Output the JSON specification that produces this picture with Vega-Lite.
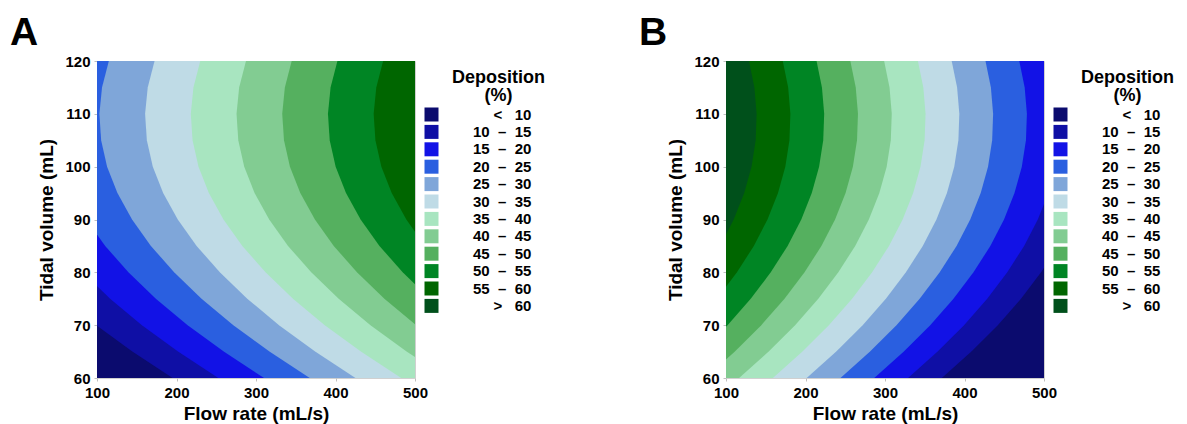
{
  "$schema": "https://vega.github.io/schema/vega-lite/v6.json",
  "padding": {"left": 9, "top": 13, "right": 0, "bottom": 0},
  "spacing": 81,
  "datasets": {
    "A": [
      {"lev":0,"y":60,"x":0},{"lev":0,"y":120,"x":0},
      {"lev":10,"y":60,"x":195.1},{"lev":10,"y":65,"x":144.4},{"lev":10,"y":70,"x":99.0},{"lev":10,"y":75,"x":59.0},{"lev":10,"y":80,"x":24.5},{"lev":10,"y":85,"x":-4.7},{"lev":10,"y":90,"x":-28.4},{"lev":10,"y":95,"x":-46.8},{"lev":10,"y":100,"x":-59.8},{"lev":10,"y":105,"x":-67.3},{"lev":10,"y":110,"x":-69.5},{"lev":10,"y":115,"x":-66.2},{"lev":10,"y":120,"x":-57.6},
      {"lev":15,"y":60,"x":252.6},{"lev":15,"y":65,"x":201.9},{"lev":15,"y":70,"x":156.5},{"lev":15,"y":75,"x":116.5},{"lev":15,"y":80,"x":82.0},{"lev":15,"y":85,"x":52.8},{"lev":15,"y":90,"x":29.1},{"lev":15,"y":95,"x":10.7},{"lev":15,"y":100,"x":-2.3},{"lev":15,"y":105,"x":-9.8},{"lev":15,"y":110,"x":-12.0},{"lev":15,"y":115,"x":-8.7},{"lev":15,"y":120,"x":-0.1},
      {"lev":20,"y":60,"x":310.1},{"lev":20,"y":65,"x":259.4},{"lev":20,"y":70,"x":214.0},{"lev":20,"y":75,"x":174.0},{"lev":20,"y":80,"x":139.5},{"lev":20,"y":85,"x":110.3},{"lev":20,"y":90,"x":86.6},{"lev":20,"y":95,"x":68.2},{"lev":20,"y":100,"x":55.2},{"lev":20,"y":105,"x":47.7},{"lev":20,"y":110,"x":45.5},{"lev":20,"y":115,"x":48.8},{"lev":20,"y":120,"x":57.4},
      {"lev":25,"y":60,"x":367.6},{"lev":25,"y":65,"x":316.9},{"lev":25,"y":70,"x":271.5},{"lev":25,"y":75,"x":231.5},{"lev":25,"y":80,"x":197.0},{"lev":25,"y":85,"x":167.8},{"lev":25,"y":90,"x":144.1},{"lev":25,"y":95,"x":125.7},{"lev":25,"y":100,"x":112.7},{"lev":25,"y":105,"x":105.2},{"lev":25,"y":110,"x":103.0},{"lev":25,"y":115,"x":106.3},{"lev":25,"y":120,"x":114.9},
      {"lev":30,"y":60,"x":425.1},{"lev":30,"y":65,"x":374.4},{"lev":30,"y":70,"x":329.0},{"lev":30,"y":75,"x":289.0},{"lev":30,"y":80,"x":254.5},{"lev":30,"y":85,"x":225.3},{"lev":30,"y":90,"x":201.6},{"lev":30,"y":95,"x":183.2},{"lev":30,"y":100,"x":170.2},{"lev":30,"y":105,"x":162.7},{"lev":30,"y":110,"x":160.5},{"lev":30,"y":115,"x":163.8},{"lev":30,"y":120,"x":172.4},
      {"lev":35,"y":60,"x":482.6},{"lev":35,"y":65,"x":431.9},{"lev":35,"y":70,"x":386.5},{"lev":35,"y":75,"x":346.5},{"lev":35,"y":80,"x":312.0},{"lev":35,"y":85,"x":282.8},{"lev":35,"y":90,"x":259.1},{"lev":35,"y":95,"x":240.7},{"lev":35,"y":100,"x":227.7},{"lev":35,"y":105,"x":220.2},{"lev":35,"y":110,"x":218.0},{"lev":35,"y":115,"x":221.3},{"lev":35,"y":120,"x":229.9},
      {"lev":40,"y":60,"x":540.1},{"lev":40,"y":65,"x":489.4},{"lev":40,"y":70,"x":444.0},{"lev":40,"y":75,"x":404.0},{"lev":40,"y":80,"x":369.5},{"lev":40,"y":85,"x":340.3},{"lev":40,"y":90,"x":316.6},{"lev":40,"y":95,"x":298.2},{"lev":40,"y":100,"x":285.2},{"lev":40,"y":105,"x":277.7},{"lev":40,"y":110,"x":275.5},{"lev":40,"y":115,"x":278.8},{"lev":40,"y":120,"x":287.4},
      {"lev":45,"y":60,"x":597.6},{"lev":45,"y":65,"x":546.9},{"lev":45,"y":70,"x":501.5},{"lev":45,"y":75,"x":461.5},{"lev":45,"y":80,"x":427.0},{"lev":45,"y":85,"x":397.8},{"lev":45,"y":90,"x":374.1},{"lev":45,"y":95,"x":355.7},{"lev":45,"y":100,"x":342.7},{"lev":45,"y":105,"x":335.2},{"lev":45,"y":110,"x":333.0},{"lev":45,"y":115,"x":336.3},{"lev":45,"y":120,"x":344.9},
      {"lev":50,"y":60,"x":655.1},{"lev":50,"y":65,"x":604.4},{"lev":50,"y":70,"x":559.0},{"lev":50,"y":75,"x":519.0},{"lev":50,"y":80,"x":484.5},{"lev":50,"y":85,"x":455.3},{"lev":50,"y":90,"x":431.6},{"lev":50,"y":95,"x":413.2},{"lev":50,"y":100,"x":400.2},{"lev":50,"y":105,"x":392.7},{"lev":50,"y":110,"x":390.5},{"lev":50,"y":115,"x":393.8},{"lev":50,"y":120,"x":402.4},
      {"lev":55,"y":60,"x":712.6},{"lev":55,"y":65,"x":661.9},{"lev":55,"y":70,"x":616.5},{"lev":55,"y":75,"x":576.5},{"lev":55,"y":80,"x":542.0},{"lev":55,"y":85,"x":512.8},{"lev":55,"y":90,"x":489.1},{"lev":55,"y":95,"x":470.7},{"lev":55,"y":100,"x":457.7},{"lev":55,"y":105,"x":450.2},{"lev":55,"y":110,"x":448.0},{"lev":55,"y":115,"x":451.3},{"lev":55,"y":120,"x":459.9}
    ],
    "B": [
      {"lev":0,"y":60,"x":700},{"lev":0,"y":120,"x":700},
      {"lev":10,"y":60,"x":371.5},{"lev":10,"y":65,"x":408.7},{"lev":10,"y":70,"x":441.9},{"lev":10,"y":75,"x":471.1},{"lev":10,"y":80,"x":496.3},{"lev":10,"y":85,"x":517.5},{"lev":10,"y":90,"x":534.7},{"lev":10,"y":95,"x":547.9},{"lev":10,"y":100,"x":557.1},{"lev":10,"y":105,"x":562.3},{"lev":10,"y":110,"x":563.5},{"lev":10,"y":115,"x":560.7},{"lev":10,"y":120,"x":553.9},
      {"lev":15,"y":60,"x":329.0},{"lev":15,"y":65,"x":366.2},{"lev":15,"y":70,"x":399.4},{"lev":15,"y":75,"x":428.6},{"lev":15,"y":80,"x":453.8},{"lev":15,"y":85,"x":475.0},{"lev":15,"y":90,"x":492.2},{"lev":15,"y":95,"x":505.4},{"lev":15,"y":100,"x":514.6},{"lev":15,"y":105,"x":519.8},{"lev":15,"y":110,"x":521.0},{"lev":15,"y":115,"x":518.2},{"lev":15,"y":120,"x":511.4},
      {"lev":20,"y":60,"x":286.5},{"lev":20,"y":65,"x":323.7},{"lev":20,"y":70,"x":356.9},{"lev":20,"y":75,"x":386.1},{"lev":20,"y":80,"x":411.3},{"lev":20,"y":85,"x":432.5},{"lev":20,"y":90,"x":449.7},{"lev":20,"y":95,"x":462.9},{"lev":20,"y":100,"x":472.1},{"lev":20,"y":105,"x":477.3},{"lev":20,"y":110,"x":478.5},{"lev":20,"y":115,"x":475.7},{"lev":20,"y":120,"x":468.9},
      {"lev":25,"y":60,"x":244.0},{"lev":25,"y":65,"x":281.2},{"lev":25,"y":70,"x":314.4},{"lev":25,"y":75,"x":343.6},{"lev":25,"y":80,"x":368.8},{"lev":25,"y":85,"x":390.0},{"lev":25,"y":90,"x":407.2},{"lev":25,"y":95,"x":420.4},{"lev":25,"y":100,"x":429.6},{"lev":25,"y":105,"x":434.8},{"lev":25,"y":110,"x":436.0},{"lev":25,"y":115,"x":433.2},{"lev":25,"y":120,"x":426.4},
      {"lev":30,"y":60,"x":201.5},{"lev":30,"y":65,"x":238.7},{"lev":30,"y":70,"x":271.9},{"lev":30,"y":75,"x":301.1},{"lev":30,"y":80,"x":326.3},{"lev":30,"y":85,"x":347.5},{"lev":30,"y":90,"x":364.7},{"lev":30,"y":95,"x":377.9},{"lev":30,"y":100,"x":387.1},{"lev":30,"y":105,"x":392.3},{"lev":30,"y":110,"x":393.5},{"lev":30,"y":115,"x":390.7},{"lev":30,"y":120,"x":383.9},
      {"lev":35,"y":60,"x":159.0},{"lev":35,"y":65,"x":196.2},{"lev":35,"y":70,"x":229.4},{"lev":35,"y":75,"x":258.6},{"lev":35,"y":80,"x":283.8},{"lev":35,"y":85,"x":305.0},{"lev":35,"y":90,"x":322.2},{"lev":35,"y":95,"x":335.4},{"lev":35,"y":100,"x":344.6},{"lev":35,"y":105,"x":349.8},{"lev":35,"y":110,"x":351.0},{"lev":35,"y":115,"x":348.2},{"lev":35,"y":120,"x":341.4},
      {"lev":40,"y":60,"x":116.5},{"lev":40,"y":65,"x":153.7},{"lev":40,"y":70,"x":186.9},{"lev":40,"y":75,"x":216.1},{"lev":40,"y":80,"x":241.3},{"lev":40,"y":85,"x":262.5},{"lev":40,"y":90,"x":279.7},{"lev":40,"y":95,"x":292.9},{"lev":40,"y":100,"x":302.1},{"lev":40,"y":105,"x":307.3},{"lev":40,"y":110,"x":308.5},{"lev":40,"y":115,"x":305.7},{"lev":40,"y":120,"x":298.9},
      {"lev":45,"y":60,"x":74.0},{"lev":45,"y":65,"x":111.2},{"lev":45,"y":70,"x":144.4},{"lev":45,"y":75,"x":173.6},{"lev":45,"y":80,"x":198.8},{"lev":45,"y":85,"x":220.0},{"lev":45,"y":90,"x":237.2},{"lev":45,"y":95,"x":250.4},{"lev":45,"y":100,"x":259.6},{"lev":45,"y":105,"x":264.8},{"lev":45,"y":110,"x":266.0},{"lev":45,"y":115,"x":263.2},{"lev":45,"y":120,"x":256.4},
      {"lev":50,"y":60,"x":31.5},{"lev":50,"y":65,"x":68.7},{"lev":50,"y":70,"x":101.9},{"lev":50,"y":75,"x":131.1},{"lev":50,"y":80,"x":156.3},{"lev":50,"y":85,"x":177.5},{"lev":50,"y":90,"x":194.7},{"lev":50,"y":95,"x":207.9},{"lev":50,"y":100,"x":217.1},{"lev":50,"y":105,"x":222.3},{"lev":50,"y":110,"x":223.5},{"lev":50,"y":115,"x":220.7},{"lev":50,"y":120,"x":213.9},
      {"lev":55,"y":60,"x":-11.0},{"lev":55,"y":65,"x":26.2},{"lev":55,"y":70,"x":59.4},{"lev":55,"y":75,"x":88.6},{"lev":55,"y":80,"x":113.8},{"lev":55,"y":85,"x":135.0},{"lev":55,"y":90,"x":152.2},{"lev":55,"y":95,"x":165.4},{"lev":55,"y":100,"x":174.6},{"lev":55,"y":105,"x":179.8},{"lev":55,"y":110,"x":181.0},{"lev":55,"y":115,"x":178.2},{"lev":55,"y":120,"x":171.4},
      {"lev":60,"y":60,"x":-53.5},{"lev":60,"y":65,"x":-16.3},{"lev":60,"y":70,"x":16.9},{"lev":60,"y":75,"x":46.1},{"lev":60,"y":80,"x":71.3},{"lev":60,"y":85,"x":92.5},{"lev":60,"y":90,"x":109.7},{"lev":60,"y":95,"x":122.9},{"lev":60,"y":100,"x":132.1},{"lev":60,"y":105,"x":137.3},{"lev":60,"y":110,"x":138.5},{"lev":60,"y":115,"x":135.7},{"lev":60,"y":120,"x":128.9}
    ]
  },
  "hconcat": [
    {
      "title": {"text": "A"},
      "width": 318,
      "height": 317,
      "data": {"name": "A"},
      "mark": {"type": "area", "orient": "horizontal", "clip": true, "opacity": 1, "strokeWidth": 0},
      "encoding": {
        "y": {"field": "y", "type": "quantitative", "scale": {"domain": [60, 120], "nice": false, "zero": false}, "axis": {"values": [60, 70, 80, 90, 100, 110, 120], "title": "Tidal volume (mL)"}},
        "x": {"field": "x", "type": "quantitative", "stack": null, "scale": {"domain": [100, 500], "nice": false, "zero": false}, "axis": {"values": [100, 200, 300, 400, 500], "title": "Flow rate (mL/s)"}},
        "x2": {"datum": 800},
        "color": {"field": "lev", "type": "ordinal",
          "scale": {"domain": [0, 10, 15, 20, 25, 30, 35, 40, 45, 50, 55, 60], "range": ["#0b0b6e", "#0f0fa5", "#1212e6", "#2a5fe0", "#7fa6d9", "#bfdbe6", "#a8e5c0", "#82cc92", "#55b05f", "#008524", "#006600", "#00501b"]},
          "legend": {"title": ["\u200b\u00a0\u00a0\u00a0\u00a0\u00a0Deposition", "\u200b\u00a0\u00a0\u00a0\u00a0\u00a0(%)"], "labelExpr": "(datum.value == 0 ? '<\u00a0\u00a0\u00a010' : datum.value == 60 ? '>\u00a0\u00a0\u00a060' : datum.value + '\u00a0\u00a0\u2013\u00a0\u00a0' + (datum.value + 5)) + '\u00a0\u00a0\u00a0\u00a0\u200b'"}}
      }
    },
    {
      "title": {"text": "B"},
      "width": 318,
      "height": 317,
      "data": {"name": "B"},
      "mark": {"type": "area", "orient": "horizontal", "clip": true, "opacity": 1, "strokeWidth": 0},
      "encoding": {
        "y": {"field": "y", "type": "quantitative", "scale": {"domain": [60, 120], "nice": false, "zero": false}, "axis": {"values": [60, 70, 80, 90, 100, 110, 120], "title": "Tidal volume (mL)"}},
        "x": {"field": "x", "type": "quantitative", "stack": null, "scale": {"domain": [100, 500], "nice": false, "zero": false}, "axis": {"values": [100, 200, 300, 400, 500], "title": "Flow rate (mL/s)"}},
        "x2": {"datum": -400},
        "color": {"field": "lev", "type": "ordinal",
          "scale": {"domain": [0, 10, 15, 20, 25, 30, 35, 40, 45, 50, 55, 60], "range": ["#0b0b6e", "#0f0fa5", "#1212e6", "#2a5fe0", "#7fa6d9", "#bfdbe6", "#a8e5c0", "#82cc92", "#55b05f", "#008524", "#006600", "#00501b"]},
          "legend": {"title": ["\u200b\u00a0\u00a0\u00a0\u00a0\u00a0Deposition", "\u200b\u00a0\u00a0\u00a0\u00a0\u00a0(%)"], "labelExpr": "(datum.value == 0 ? '<\u00a0\u00a0\u00a010' : datum.value == 60 ? '>\u00a0\u00a0\u00a060' : datum.value + '\u00a0\u00a0\u2013\u00a0\u00a0' + (datum.value + 5)) + '\u00a0\u00a0\u00a0\u00a0\u200b'"}}
      }
    }
  ],
  "resolve": {"scale": {"color": "independent"}, "legend": {"color": "independent"}},
  "config": {
    "font": "Liberation Sans",
    "background": "white",
    "view": {"stroke": "#d0d0d0", "strokeWidth": 1},
    "title": {"fontSize": 39, "fontWeight": "bold", "color": "#000", "anchor": "start", "frame": "bounds", "dx": -28, "offset": 1},
    "axis": {"labelFontSize": 15, "labelFontWeight": "bold", "labelColor": "#000", "titleFontSize": 19, "titleFontWeight": "bold", "titleColor": "#000", "domain": false, "grid": false, "tickSize": 3, "tickColor": "#c0c0c0", "labelFlush": false, "labelOverlap": false, "labelPadding": 4},
    "axisY": {"titlePadding": 8},
    "axisX": {"labelPadding": 4, "titlePadding": 4},
    "legend": {"titleFontSize": 18, "titleFontWeight": "bold", "titleColor": "#000", "titleAlign": "center", "titleAnchor": "middle", "titleLineHeight": 18, "titlePadding": 2, "labelFontSize": 15, "labelFontWeight": "bold", "labelColor": "#000", "labelAlign": "right", "labelOffset": 109, "symbolType": "square", "symbolSize": 196, "symbolStrokeWidth": 0, "symbolOpacity": 1, "rowPadding": 1.4, "offset": 1, "padding": 8}
  }
}
